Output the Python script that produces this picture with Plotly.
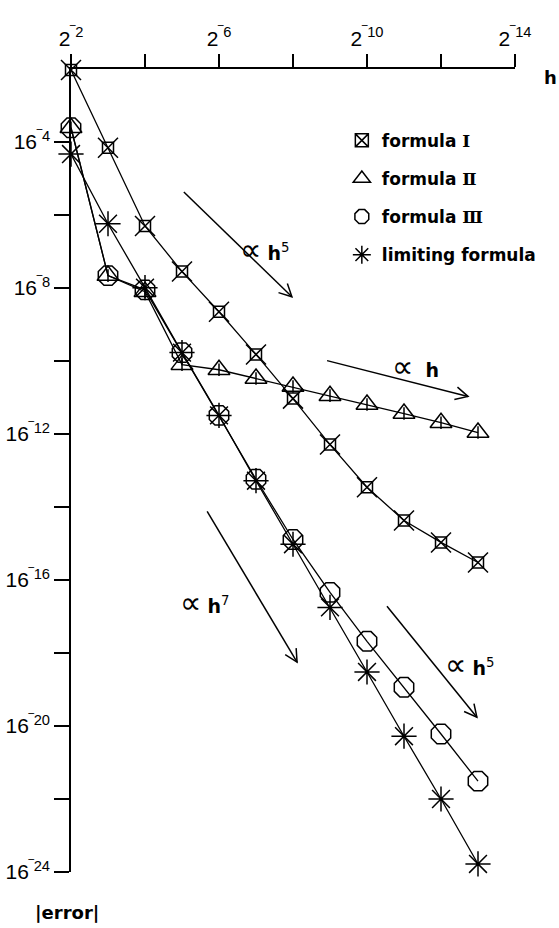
import math
import plotly.graph_objects as go

# x: exponent of h (h = 2**x); y: exponent of |error| (|error| = 16**y)
h_exp = [-2, -3, -4, -5, -6, -7, -8, -9, -10, -11, -12, -13]
err_formula_1 = [-2.03, -4.16, -6.30, -7.55, -8.65, -9.82, -11.03, -12.29, -13.46, -14.37, -14.97, -15.52]
err_formula_2 = [-3.61, -7.66, -8.10, -10.10, -10.24, -10.48, -10.70, -10.95, -11.19, -11.44, -11.69, -11.96]
err_formula_3 = [-3.61, -7.66, -8.05, -9.77, -11.49, -13.24, -14.89, -16.34, -17.68, -18.94, -20.22, -21.51]
err_limiting = [-4.33, -6.24, -7.99, -9.77, -11.49, -13.28, -15.02, -16.75, -18.52, -20.28, -22.00, -23.78]

ROMAN = "<span style='font-family:DejaVu Serif'>{}</span>"
series_names = ["formula " + ROMAN.format("Ⅰ"),
                "formula " + ROMAN.format("Ⅱ"),
                "formula " + ROMAN.format("Ⅲ"),
                "limiting formula"]

x_tickvals = [-2, -6, -10, -14]
x_ticktext = ["2<sup>‾2</sup>", "2<sup>‾6</sup>", "2<sup>‾10</sup>", "2<sup>‾14</sup>"]
x_minorvals = [-4, -8, -12]
y_tickvals = [-4, -8, -12, -16, -20, -24]
y_ticktext = ["16<sup>‾4</sup>", "16<sup>‾8</sup>", "16<sup>‾12</sup>",
              "16<sup>‾16</sup>", "16<sup>‾20</sup>", "16<sup>‾24</sup>"]
y_minorvals = [-6, -10, -14, -18, -22]

BLACK = "#000000"
LW = 1.3
X_RANGE = [-2, -14]
Y_RANGE = [-24, -2]
W, H = 559, 928
ML, MR, MT, MB = 71, 44, 69, 56

fig = go.Figure()

def add_series(yvals, layers):
    first = True
    for sym, size in layers:
        fig.add_trace(go.Scatter(
            x=h_exp, y=yvals, mode="lines+markers" if first else "markers",
            line=dict(color=BLACK, width=LW),
            marker=dict(symbol=sym, size=size, color=BLACK, line=dict(color=BLACK, width=1.5)),
            showlegend=False, cliponaxis=False, hoverinfo="skip"))
        first = False

add_series(err_formula_1, [("square-open", 11), ("x-thin-open", 20)])
add_series(err_formula_2, [("triangle-up-open", 19), ("line-ns-open", 9)])
add_series(err_formula_3, [("octagon-open", 21)])
add_series(err_limiting, [("asterisk-open", 21)])

legend_symbols = [("square-x-open", 13), ("triangle-up-open", 15), ("octagon-open", 15), ("asterisk-open", 15)]
for i, (name, (sym, size)) in enumerate(zip(series_names, legend_symbols)):
    fig.add_trace(go.Scatter(
        x=[None], y=[None], mode="markers", name=name, legendgroup=f"g{i}",
        marker=dict(symbol=sym, size=size, color=BLACK, line=dict(color=BLACK, width=1.5))))

axis_font = dict(family="Liberation Sans, Arial, sans-serif", size=21, color=BLACK)

fig.update_layout(
    width=W, height=H, autosize=False,
    margin=dict(l=ML, r=MR, t=MT, b=MB, autoexpand=False),
    paper_bgcolor="white", plot_bgcolor="white",
    showlegend=True,
    legend=dict(x=0.61, y=0.933, xanchor="left", yanchor="top",
                font=dict(family="DejaVu Sans", size=17, color=BLACK, weight="bold"),
                bgcolor="rgba(0,0,0,0)", traceorder="grouped", tracegroupgap=13,
                itemsizing="trace"),
    xaxis=dict(range=X_RANGE, side="top", showline=True, linecolor=BLACK, linewidth=1.5,
               automargin=False,
               ticks="outside", ticklen=13, tickwidth=1.5, tickcolor=BLACK,
               tickvals=x_tickvals, ticktext=x_ticktext, tickfont=axis_font,
               minor=dict(tickvals=x_minorvals, ticks="outside", ticklen=13, tickwidth=1.5,
                          tickcolor=BLACK, showgrid=False),
               showgrid=False, zeroline=False),
    yaxis=dict(range=Y_RANGE, showline=True, linecolor=BLACK, linewidth=1.5,
               automargin=False,
               ticks="outside", ticklen=15, tickwidth=1.5, tickcolor=BLACK,
               tickvals=y_tickvals, ticktext=y_ticktext, tickfont=axis_font,
               minor=dict(tickvals=y_minorvals, ticks="outside", ticklen=15, tickwidth=1.5,
                          tickcolor=BLACK, showgrid=False),
               showgrid=False, zeroline=False),
)

# pixels per axis unit (used to give arrowheads a fixed on-screen shape)
PX_X = (W - ML - MR) / abs(X_RANGE[1] - X_RANGE[0])
PX_Y = (H - MT - MB) / abs(Y_RANGE[1] - Y_RANGE[0])

# slope guide arrows: (tail x, tail y, tip x, tip y) in axis units
arrows = [(-5.05, -5.37, -7.97, -8.24),
          (-8.92, -9.99, -12.73, -10.97),
          (-5.68, -14.12, -8.11, -18.25),
          (-10.54, -16.72, -12.97, -19.76)]
HEAD_LEN, HEAD_ANG = 14, math.radians(27)
for tx, ty, hx, hy in arrows:
    fig.add_shape(type="line", x0=tx, y0=ty, x1=hx, y1=hy, xref="x", yref="y",
                  line=dict(color=BLACK, width=1.5))
    # direction in screen pixels (x axis reversed, y axis up)
    dxp = -(hx - tx) * PX_X
    dyp = -(hy - ty) * PX_Y
    n = math.hypot(dxp, dyp)
    ux, uy = dxp / n, dyp / n
    pts = []
    for s in (1, -1):
        ca, sa = math.cos(s * HEAD_ANG), math.sin(s * HEAD_ANG)
        bx = -(ux * ca - uy * sa) * HEAD_LEN
        by = -(ux * sa + uy * ca) * HEAD_LEN
        pts.append((hx - bx / PX_X, hy - by / PX_Y))
    path = f"M {pts[0][0]},{pts[0][1]} L {hx},{hy} L {pts[1][0]},{pts[1][1]}"
    fig.add_shape(type="path", path=path, xref="x", yref="y",
                  line=dict(color=BLACK, width=1.5))

PROP = "<span style='font-size:30px;font-weight:normal'>∝</span>"
slope_labels = [(-7.22, -6.95, PROP + " <b>h</b><sup>5</sup>"),
                (-11.3, -10.15, PROP + "  <b>h</b>"),
                (-5.62, -16.61, PROP + " <b>h</b><sup>7</sup>"),
                (-12.78, -18.31, PROP + " <b>h</b><sup>5</sup>")]
for lx, ly, txt in slope_labels:
    fig.add_annotation(x=lx, y=ly, xref="x", yref="y", text=txt, showarrow=False,
                       font=dict(family="DejaVu Sans", size=19, color=BLACK))

fig.add_annotation(x=1.099, y=0.99, xref="paper", yref="paper", text="<b>h</b>", showarrow=False,
                   xanchor="right", yanchor="middle",
                   font=dict(family="DejaVu Sans", size=18, color=BLACK))
fig.add_annotation(x=-0.009, y=-0.051, xref="paper", yref="paper", text="<b>|error|</b>",
                   showarrow=False, xanchor="center", yanchor="middle",
                   font=dict(family="DejaVu Sans", size=18, color=BLACK))

fig.write_html("out.html", config={"displayModeBar": False},
               post_script="document.body.style.margin='0';")
